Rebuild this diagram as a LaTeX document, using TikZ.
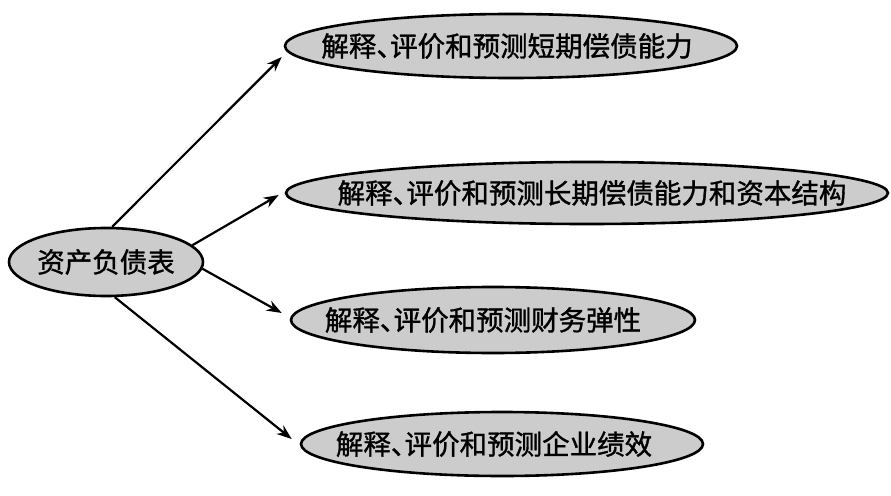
\documentclass[tikz,border=0pt]{standalone}
\usepackage{fontspec}
\newfontfamily\cjk[FakeBold=1.2]{Noto Sans CJK SC}
\usetikzlibrary{shapes.geometric,arrows.meta}
\newcommand\halfdun{\makebox[0.5em][l]{、}}
\begin{document}
\begin{tikzpicture}[x=1pt,y=-1pt,
  bubble/.style={ellipse,draw=black,line width=2.6pt,fill=gray!40,inner sep=0pt,
    font=\cjk\fontsize{27.5}{30}\selectfont},
  link/.style={line width=2.2pt,-{Stealth[length=15pt,width=11pt]}}]
\useasboundingbox (0,0) rectangle (891,495);
\node[bubble,minimum width=194pt,minimum height=68pt] (L) at (106,262) {\makebox[0pt]{资产负债表}};
\node[bubble,minimum width=452pt,minimum height=64pt] (E1) at (511,46) {\makebox[0pt]{\hspace*{-8pt}解释\halfdun 评价和预测短期偿债能力}};
\node[bubble,minimum width=602pt,minimum height=62pt] (E2) at (587,193) {\makebox[0pt]{\hspace*{10pt}解释\halfdun 评价和预测长期偿债能力和资本结构}};
\node[bubble,minimum width=404pt,minimum height=66pt] (E3) at (493,320) {\makebox[0pt]{\hspace*{-20pt}解释\halfdun 评价和预测财务弹性}};
\node[bubble,minimum width=402pt,minimum height=64pt] (E4) at (502,444) {\makebox[0pt]{\hspace*{-16pt}解释\halfdun 评价和预测企业绩效}};
\draw[link] (L.80) -- ([xshift=-2pt,yshift=-11pt]E1.west);
\draw[link] (L.11) -- ([xshift=-6pt,yshift=-2pt]E2.west);
\draw[link] (L.-4) -- ([xshift=-8pt,yshift=7pt]E3.west);
\draw[link] (L.-76) -- ([xshift=-8pt,yshift=5pt]E4.west);
\end{tikzpicture}
\end{document}
